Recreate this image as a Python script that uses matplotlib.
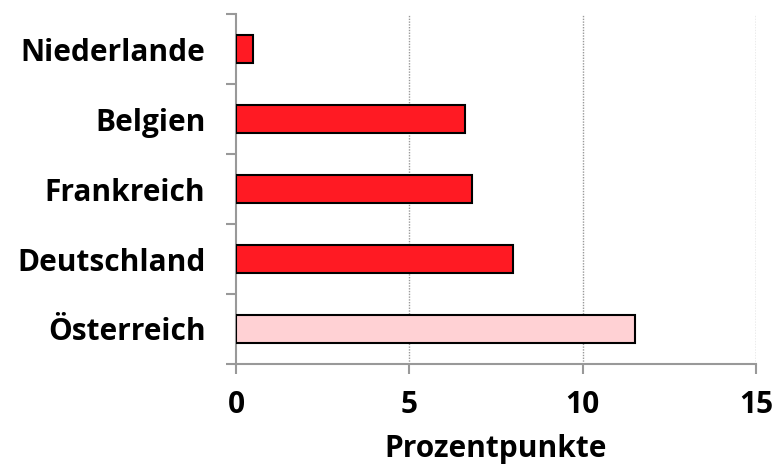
import numpy as np
import matplotlib.pyplot as plt

# data (bottom to top)
countries = ['Österreich', 'Deutschland', 'Frankreich', 'Belgien', 'Niederlande']
values = [11.5, 8.0, 6.8, 6.6, 0.5]
colors = ['#ffd1d4', '#ff1a23', '#ff1a23', '#ff1a23', '#ff1a23']
xticks = [0, 5, 10, 15]

plt.rcParams['font.family'] = ['Open Sans', 'DejaVu Sans']
plt.rcParams['font.weight'] = 'bold'
fs = 21.5

fig = plt.figure(figsize=(7.77, 4.69), dpi=100)
ax = fig.add_axes([0.3037, 0.2239, 0.973 - 0.3037, 0.970 - 0.2239])

y = np.arange(len(countries))
ax.barh(y, values, height=0.41, color=colors, edgecolor='black', linewidth=1.5, zorder=3)

ax.set_xlim(0, 15)
ax.set_ylim(-0.5, len(countries) - 0.5)
ax.set_xticks(xticks)
ax.set_xticklabels([str(t) for t in xticks], fontsize=fs, fontweight='bold')
ax.set_yticks(y)
ax.set_yticklabels(countries, fontsize=fs, fontweight='bold')
ax.set_yticks(np.arange(-0.5, len(countries)), minor=True)

ax.tick_params(axis='y', which='major', length=0, pad=22)
ax.tick_params(axis='y', which='minor', length=7, color='#999999', width=1.5)
ax.tick_params(axis='x', length=7, color='#999999', width=1.5, pad=12)

for v in xticks[1:]:
    ax.axvline(v, color='#999999', linestyle=(0, (1, 1)), linewidth=1, zorder=1)

for s in ['top', 'right']:
    ax.spines[s].set_visible(False)
for s in ['left', 'bottom']:
    ax.spines[s].set_color('#999999')
    ax.spines[s].set_linewidth(1.5)

ax.set_xlabel('Prozentpunkte', fontsize=fs, fontweight='bold', labelpad=10)

fig.savefig('out.png', dpi=100)
